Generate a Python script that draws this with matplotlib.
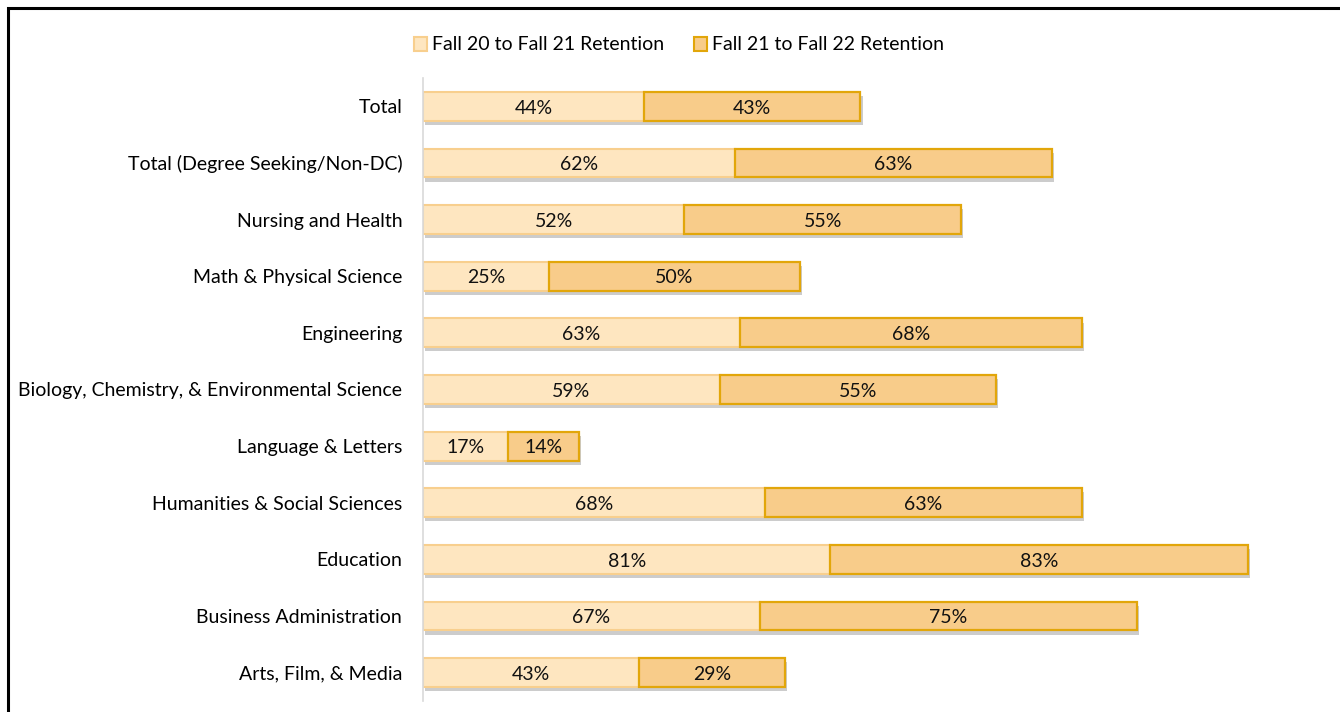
import matplotlib.pyplot as plt
import matplotlib.patheffects as pe
from matplotlib.patches import Patch, Rectangle

plt.rcParams['font.family'] = ['Lato', 'DejaVu Sans']

# Datos (de arriba hacia abajo)
categories = [
    'Total',
    'Total (Degree Seeking/Non-DC)',
    'Nursing and Health',
    'Math & Physical Science',
    'Engineering',
    'Biology, Chemistry, & Environmental Science',
    'Language & Letters',
    'Humanities & Social Sciences',
    'Education',
    'Business Administration',
    'Arts, Film, & Media',
]
fall20_21 = [44, 62, 52, 25, 63, 59, 17, 68, 81, 67, 43]
fall21_22 = [43, 63, 55, 50, 68, 55, 14, 63, 83, 75, 29]
series_names = ['Fall 20 to Fall 21 Retention', 'Fall 21 to Fall 22 Retention']

light_fill, light_edge = '#FEE6C0', '#F8CF8E'
dark_fill, dark_edge = '#F8CC8A', '#E2A60A'

fig = plt.figure(figsize=(13.4, 7.12), dpi=100)
ax = fig.add_axes([423 / 1340, 11 / 712, 880 / 1340, 623 / 712])

y = list(range(len(categories)))
shadow = [pe.SimplePatchShadow(offset=(1.5, -3), shadow_rgbFace='#9a9a9a', alpha=0.5), pe.Normal()]

b1 = ax.barh(y, fall20_21, height=0.51, color=light_fill, edgecolor=light_edge, linewidth=1.5)
b2 = ax.barh(y, fall21_22, left=fall20_21, height=0.51, color=dark_fill, edgecolor=dark_edge, linewidth=1.6)
for bars in (b1, b2):
    for p in bars:
        p.set_path_effects(shadow)

for i in y:
    ax.text(fall20_21[i] / 2, i + 0.03, f'{fall20_21[i]}%', ha='center', va='center', fontsize=14, color='#111111')
    ax.text(fall20_21[i] + fall21_22[i] / 2, i + 0.03, f'{fall21_22[i]}%', ha='center', va='center',
            fontsize=14, color='#111111')

ax.set_yticks(y)
ax.set_yticklabels(categories, fontsize=14)
ax.set_ylim(len(categories) - 0.5, -0.5)
ax.set_xlim(0, 175)
ax.set_xticks([])
ax.tick_params(axis='y', length=0, pad=15)
for s in ['top', 'right', 'bottom']:
    ax.spines[s].set_visible(False)
ax.spines['left'].set_color('#d9d9d9')
ax.spines['left'].set_linewidth(1.2)

handles = [Patch(facecolor=light_fill, edgecolor=light_edge, linewidth=1.5),
           Patch(facecolor=dark_fill, edgecolor=dark_edge, linewidth=1.5)]
fig.legend(handles, series_names, loc='center', bbox_to_anchor=(679 / 1340, 1 - 45 / 712), ncol=2,
           frameon=False, fontsize=14, handlelength=0.7, handleheight=0.7, handletextpad=0.25,
           columnspacing=1.5)

# Marco exterior
fig.patches.append(Rectangle((8 / 1340, -0.05), 1.1, 1.05 - 8 / 712, transform=fig.transFigure,
                             fill=False, edgecolor='black', linewidth=2.2))

fig.savefig('out.png', dpi=100)
